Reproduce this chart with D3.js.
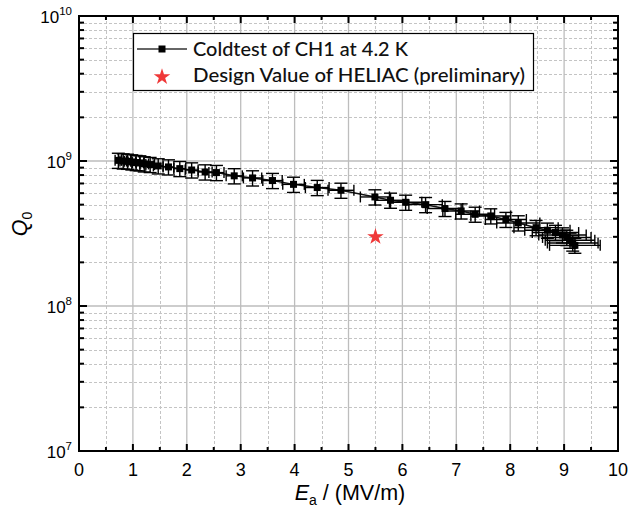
<!DOCTYPE html>
<html><head><meta charset="utf-8">
<script src="https://cdn.jsdelivr.net/npm/d3@7"></script>
<style>body{margin:0;background:#fff}svg{display:block}</style>
</head><body>
<svg id="c" width="630" height="507"></svg>
<script>
// Data
const ea   = [0.73,0.82,0.90,0.98,1.06,1.13,1.21,1.32,1.47,1.66,1.87,2.09,2.34,2.55,2.88,3.22,3.59,3.98,4.42,4.86,5.49,5.78,6.06,6.43,6.79,7.09,7.35,7.64,7.92,8.15,8.48,8.69,8.84,8.97,9.05,9.11,9.16,9.20];
const q0   = [1.01e9,1.00e9,0.995e9,0.985e9,0.975e9,0.97e9,0.955e9,0.945e9,0.925e9,0.91e9,0.886e9,0.867e9,0.84e9,0.832e9,0.79e9,0.764e9,0.733e9,0.69e9,0.656e9,0.628e9,0.565e9,0.536e9,0.519e9,0.50e9,0.47e9,0.452e9,0.429e9,0.418e9,0.395e9,0.374e9,0.347e9,0.333e9,0.321e9,0.309e9,0.297e9,0.284e9,0.272e9,0.262e9];
const eaErr= [0.06,0.06,0.06,0.07,0.07,0.07,0.08,0.08,0.09,0.10,0.11,0.12,0.13,0.14,0.15,0.17,0.18,0.20,0.22,0.24,0.27,0.28,0.30,0.31,0.33,0.34,0.36,0.37,0.38,0.40,0.41,0.42,0.43,0.44,0.45,0.46,0.47,0.47];
const q0Err= [0.121e9,0.12e9,0.119e9,0.118e9,0.117e9,0.116e9,0.115e9,0.113e9,0.111e9,0.109e9,0.106e9,0.104e9,0.101e9,0.100e9,0.095e9,0.092e9,0.088e9,0.083e9,0.079e9,0.075e9,0.068e9,0.064e9,0.062e9,0.060e9,0.056e9,0.054e9,0.051e9,0.050e9,0.047e9,0.045e9,0.042e9,0.040e9,0.039e9,0.037e9,0.036e9,0.034e9,0.033e9,0.031e9];
const designEa = [5.5];
const designQ0 = [3.0e8];
const xTicks = [0,1,2,3,4,5,6,7,8,9,10];
const yExps  = [7,8,9,10];
const legendLabels = ["Coldtest of CH1 at 4.2 K","Design Value of HELIAC (preliminary)"];

const L=79, R=618, T=16, B=451;
const svg = d3.select("#c");
const x = d3.scaleLinear().domain([0,10]).range([L,R]);
const y = d3.scaleLog().domain([1e7,1e10]).range([B,T]);

const yMajor = yExps.map(e=>Math.pow(10,e));
const yMinor = [];
for (let e=7;e<10;e++) for (let k=2;k<=9;k++) yMinor.push(k*Math.pow(10,e));
const xMinor = d3.range(0.5,10,1);

// grid
const g = svg.append("g");
g.selectAll(".xmg").data(xMinor).join("line").attr("x1",d=>Math.round(x(d))+0.5).attr("x2",d=>Math.round(x(d))+0.5).attr("y1",T).attr("y2",B)
  .attr("stroke","#c4c4c4").attr("stroke-width",1).attr("stroke-dasharray","3,2");
g.selectAll(".ymg").data(yMinor).join("line").attr("y1",d=>Math.round(y(d))+0.5).attr("y2",d=>Math.round(y(d))+0.5).attr("x1",L).attr("x2",R)
  .attr("stroke","#c4c4c4").attr("stroke-width",1).attr("stroke-dasharray","3,2");
g.selectAll(".xMg").data(xTicks.slice(1,-1)).join("line").attr("x1",d=>x(d)).attr("x2",d=>x(d)).attr("y1",T).attr("y2",B)
  .attr("stroke","#bdbdbd").attr("stroke-width",1.3);
g.selectAll(".yMg").data(yMajor.slice(1,-1)).join("line").attr("y1",d=>y(d)).attr("y2",d=>y(d)).attr("x1",L).attr("x2",R)
  .attr("stroke","#bdbdbd").attr("stroke-width",1.3);

// axes with inward ticks
const tk = svg.append("g").attr("stroke","#000").attr("stroke-width",2);
xTicks.forEach(v=>{ tk.append("line").attr("x1",x(v)).attr("x2",x(v)).attr("y1",B).attr("y2",B-7);
  tk.append("line").attr("x1",x(v)).attr("x2",x(v)).attr("y1",T).attr("y2",T+7);});
xMinor.forEach(v=>{ tk.append("line").attr("x1",x(v)).attr("x2",x(v)).attr("y1",B).attr("y2",B-4);
  tk.append("line").attr("x1",x(v)).attr("x2",x(v)).attr("y1",T).attr("y2",T+4);});
yMajor.forEach(v=>{ tk.append("line").attr("y1",y(v)).attr("y2",y(v)).attr("x1",L).attr("x2",L+8);
  tk.append("line").attr("y1",y(v)).attr("y2",y(v)).attr("x1",R).attr("x2",R-8);});
yMinor.forEach(v=>{ tk.append("line").attr("y1",y(v)).attr("y2",y(v)).attr("x1",L).attr("x2",L+5);
  tk.append("line").attr("y1",y(v)).attr("y2",y(v)).attr("x1",R).attr("x2",R-5);});
svg.append("rect").attr("x",L).attr("y",T).attr("width",R-L).attr("height",B-T)
  .attr("fill","none").attr("stroke","#000").attr("stroke-width",2);

// tick labels
const AF = "Liberation Sans, Arial, sans-serif";
const lab = svg.append("g").attr("font-family",AF).attr("fill","#000");
lab.selectAll(".xl").data(xTicks).join("text").attr("x",d=>x(d)).attr("y",B+25).attr("text-anchor","middle")
  .attr("font-size",18).text(d=>d);
yExps.forEach(e=>{
  const t = lab.append("text").attr("x",L-7).attr("y",y(Math.pow(10,e))+7).attr("text-anchor","end").attr("font-size",17);
  t.append("tspan").text("10");
  t.append("tspan").attr("font-size",11.5).attr("dy",-8).text(e);
});

// axis titles
const xt = svg.append("text").attr("x",350).attr("y",500).attr("text-anchor","middle")
  .attr("font-family",AF).attr("font-size",21.5);
xt.append("tspan").attr("font-style","italic").text("E");
xt.append("tspan").attr("font-size",14).attr("dy",5).text("a");
xt.append("tspan").attr("dy",-5).text(" / (MV/m)");
const yt = svg.append("text").attr("transform","translate(27,224) rotate(-90)").attr("text-anchor","middle")
  .attr("font-family",AF).attr("font-size",21.5);
yt.append("tspan").attr("font-style","italic").text("Q");
yt.append("tspan").attr("font-size",14).attr("dy",5).text("0");

// data
const pts = ea.map((v,i)=>({x:v,q:q0[i],ex:eaErr[i],eq:q0Err[i]}));
const plot = svg.append("g");
plot.append("path").datum(pts).attr("d",d3.line().x(d=>x(d.x)).y(d=>y(d.q)))
  .attr("fill","none").attr("stroke","#111").attr("stroke-width",1.5);
const eb = plot.append("g").attr("stroke","#000").attr("stroke-width",1.4);
pts.forEach(d=>{
  const cx=x(d.x), cy=y(d.q), y1=y(d.q+d.eq), y2=y(d.q-d.eq), x1=x(d.x-d.ex), x2=x(d.x+d.ex);
  eb.append("line").attr("x1",cx).attr("x2",cx).attr("y1",y1).attr("y2",y2);
  eb.append("line").attr("x1",cx-6.5).attr("x2",cx+6.5).attr("y1",y1).attr("y2",y1);
  eb.append("line").attr("x1",cx-6.5).attr("x2",cx+6.5).attr("y1",y2).attr("y2",y2);
  eb.append("line").attr("x1",x1).attr("x2",x2).attr("y1",cy).attr("y2",cy);
  eb.append("line").attr("x1",x1).attr("x2",x1).attr("y1",cy-5.5).attr("y2",cy+5.5);
  eb.append("line").attr("x1",x2).attr("x2",x2).attr("y1",cy-5.5).attr("y2",cy+5.5);
});
plot.selectAll(".m").data(pts).join("rect").attr("x",d=>x(d.x)-3.5).attr("y",d=>y(d.q)-3.5)
  .attr("width",7).attr("height",7).attr("fill","#000");

const star = d3.symbol().type(d3.symbolStar).size(85);
svg.selectAll(".star").data(designEa).join("path").attr("d",star)
  .attr("transform",(d,i)=>`translate(${x(d)},${y(designQ0[i])})`).attr("fill","#ef3838");

// legend
const lg = svg.append("g");
lg.append("rect").attr("x",133.5).attr("y",33.5).attr("width",400).attr("height",57)
  .attr("fill","#fff").attr("stroke","#000").attr("stroke-width",1.2);
lg.append("line").attr("x1",137).attr("x2",187).attr("y1",49).attr("y2",49).attr("stroke","#333").attr("stroke-width",1.5);
lg.append("rect").attr("x",158.5).attr("y",45.5).attr("width",7).attr("height",7).attr("fill","#000");
lg.append("path").attr("d",star).attr("transform","translate(162,77)").attr("fill","#ef3838");
const lf = "Lato, Noto Sans, sans-serif";
lg.append("text").attr("x",193).attr("y",55.5).attr("font-family",lf).attr("font-size",20).attr("font-weight",500).attr("fill","#111")
  .attr("textLength",215).attr("lengthAdjust","spacingAndGlyphs").text(legendLabels[0]);
lg.append("text").attr("x",193).attr("y",82).attr("font-family",lf).attr("font-size",20).attr("font-weight",500).attr("fill","#111")
  .attr("textLength",332).attr("lengthAdjust","spacingAndGlyphs").text(legendLabels[1]);
</script>
</body></html>
